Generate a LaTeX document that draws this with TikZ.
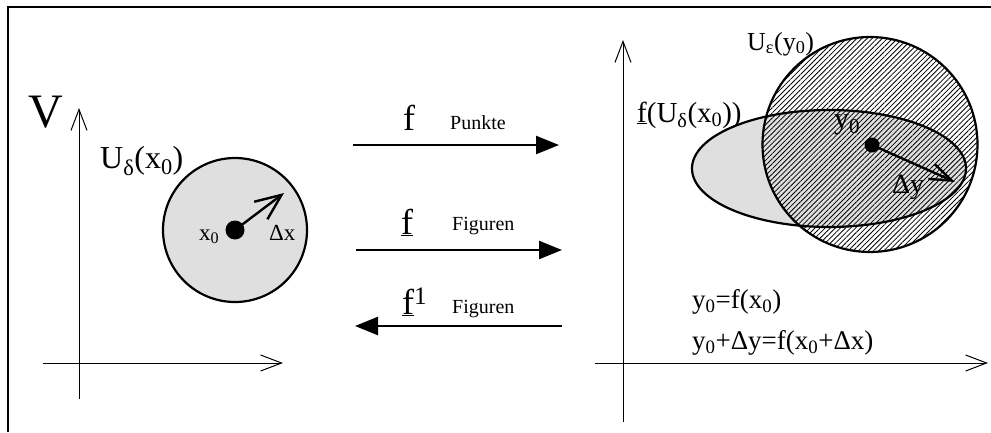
\documentclass[tikz,border=0pt]{standalone}
\usepackage{fontspec}
\setmainfont{Liberation Serif}
\usetikzlibrary{arrows.meta,patterns.meta}
\newcommand\sbs[1]{\textsubscript{#1}}
\newcommand\fs[1]{\fontsize{#1}{#1}\selectfont}
\begin{document}
\begin{tikzpicture}[x=1pt,y=-1pt,
  axis/.style={line width=1pt,-{Straight Barb[length=21pt,width=16pt,line width=1pt]}},
  maparrow/.style={line width=2.4pt,-{Triangle[length=23pt,width=18pt]}},
  vecarrow/.style={line width=2.4pt,-{Straight Barb[length=26pt,width=22pt,line width=2.4pt]}},
  region/.style={line width=2.2pt},
  txt/.style={inner sep=0pt,anchor=base west},
  dot/.style={circle,fill=black,inner sep=0pt}]
\useasboundingbox (0,0) rectangle (991,432);
% frame
\draw[line width=2pt] (8,432) -- (8,7) -- (991,7);
% ---------- left panel ----------
\coordinate (lo) at (79,399);
\coordinate (lt) at (79,108);
\coordinate (ll) at (43,363);
\coordinate (lr) at (283,363);
\draw[axis] (lo) -- (lt);
\draw[axis] (ll) -- (lr);
\node[txt] (V) at (28,127) {\fs{48}V};
\fill[gray!25] (235,230) circle[radius=72];
\draw[region] (235,230) circle[radius=72];
\node[dot,minimum size=19pt] (x0) at (235,230) {};
\coordinate (dxtip) at (284,193);
\draw[vecarrow] (x0.center) -- (dxtip);
\node[txt] (x0lab) at (199,240) {\fs{23}x\sbs{0}};
\node[txt] (dxlab) at (269,240) {\fs{23}Δx};
\node[txt] (Ud) at (100,168) {\fs{32}U\sbs{δ}(x\sbs{0})};
% ---------- middle arrows ----------
\coordinate (a1s) at (353,145); \coordinate (a1e) at (559,145);
\coordinate (a2s) at (356,250); \coordinate (a2e) at (562,250);
\coordinate (a3s) at (562,326); \coordinate (a3e) at (355,326);
\draw[maparrow] (a1s) -- (a1e);
\draw[maparrow] (a2s) -- (a2e);
\draw[maparrow] (a3s) -- (a3e);
\node[txt] (f1) at (403,130) {\fs{36}f};
\node[txt] (p1) at (450,129) {\fs{20}Punkte};
\node[txt] (f2) at (401,234) {\fs{36}\underline{f}};
\node[txt] (p2) at (452,230) {\fs{20}Figuren};
\node[txt] (f3) at (402,314) {\fs{36}\underline{f}\textsuperscript{1}};
\node[txt] (p3) at (452,313) {\fs{20}Figuren};
% ---------- right panel ----------
\coordinate (ro) at (623,422);
\coordinate (rt) at (623,40);
\coordinate (rl) at (595,363);
\coordinate (rr) at (988,363);
\draw[axis] (ro) -- (rt);
\draw[axis] (rl) -- (rr);
\fill[gray!25] (829,168.5) ellipse[x radius=137,y radius=58.5];
\fill[pattern={Lines[angle=45,distance=3.6pt,line width=0.8pt]}] (870,144.5) circle[radius=107.5];
\draw[region] (829,168.5) ellipse[x radius=137,y radius=58.5];
\draw[region] (870,144.5) circle[radius=107.5];
\node[dot,minimum size=15pt] (y0) at (872,145) {};
\coordinate (dytip) at (955,182);
\draw[line width=2.4pt,-{Straight Barb[length=22pt,width=16pt,line width=2.4pt]}] (y0.center) -- (dytip);
\node[txt] (y0lab) at (834,128) {\fs{30}y\sbs{0}};
\node[txt] (dylab) at (892,193) {\fs{28}Δy};
\node[txt] (Ue) at (747,50) {\fs{26}U\sbs{ε}(y\sbs{0})};
\node[txt] (fU) at (637,122) {\fs{29}\underline{f}(U\sbs{δ}(x\sbs{0}))};
\node[txt] (eq1) at (692,308) {\fs{27}y\sbs{0}=f(x\sbs{0})};
\node[txt] (eq2) at (692,349) {\fs{27}y\sbs{0}+Δy=f(x\sbs{0}+Δx)};
\end{tikzpicture}
\end{document}
